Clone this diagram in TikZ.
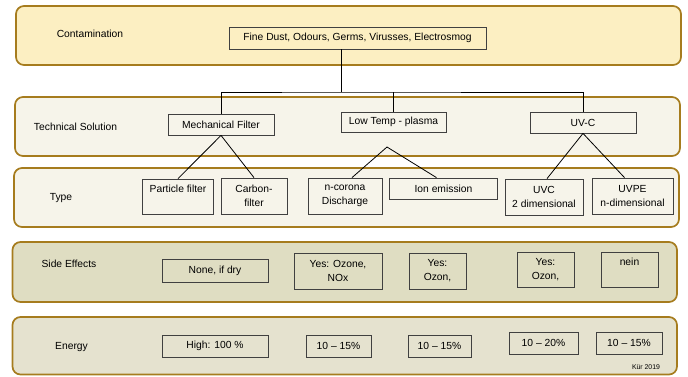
\documentclass[tikz,border=0pt]{standalone}
\usepackage{fontspec}
\setmainfont{Liberation Sans}
\usepackage{tikz}
\usetikzlibrary{positioning}
\definecolor{bandline}{HTML}{A67C1E}
\definecolor{contfill}{HTML}{FCEFC2}
\definecolor{solfill}{HTML}{F6F4EA}
\definecolor{sidefill}{HTML}{DFDDC2}
\definecolor{enfill}{HTML}{E5E2CF}
\definecolor{boxline}{HTML}{404040}

\begin{document}
\begin{tikzpicture}[x=1pt, y=-1pt, font=\fontsize{10.3}{14}\selectfont,
    band/.style={draw=bandline, line width=1.7pt, rounded corners=8pt},
    box/.style={draw=boxline, line width=0.8pt, inner sep=0pt, align=center},
    link/.style={draw, line width=0.8pt}]
    \useasboundingbox (0, 0) rectangle (688, 376);

    % bands
    \draw[band, fill=contfill] (16, 6) rectangle (681, 65);
    \draw[band, fill=solfill] (15, 97) rectangle (680, 156);
    \draw[band, fill=solfill] (14, 168) rectangle (679, 227);
    \draw[band, fill=sidefill] (12.5, 242) rectangle (677, 302);
    \draw[band, fill=enfill] (12.5, 317) rectangle (677, 374.5);

    \node (lcont) at (90, 34) {Contamination};
    \node (lsol) at (75.5, 127) {Technical Solution};
    \node (ltype) at (61, 198) {Type};
    \node (lside) at (69, 264) {Side Effects};
    \node (lenergy) at (71.5, 347) {Energy};

    \node[box, minimum width=257pt, minimum height=22pt] (dust) at (357.5, 38) {Fine Dust, Odours, Germs, Virusses, Electrosmog};

    \node[box, minimum width=106pt, minimum height=21pt] (mech) at (221, 124.5) {Mechanical Filter};
    \node[box, minimum width=105pt, minimum height=20pt] (ltp) at (393.5, 122) {Low Temp - plasma};
    \node[box, minimum width=106pt, minimum height=21pt] (uvc) at (583, 122.5) {UV-C};

    \node[box, minimum width=71pt, minimum height=35pt] (part) at (178, 196.5) {Particle filter\\\phantom{Xg}};
    \node[box, minimum width=66pt, minimum height=36pt] (carb) at (254, 196) {Carbon-\\filter};
    \node[box, minimum width=74pt, minimum height=36pt] (ncor) at (345, 196) {n-corona\\Discharge};
    \node[box, minimum width=108pt, minimum height=21pt] (ion) at (443.5, 188.5) {Ion emission};
    \node[box, minimum width=78pt, minimum height=36pt] (uvtwo) at (544, 197) {UVC\\2 dimensional};
    \node[box, minimum width=81pt, minimum height=36pt] (uvpe) at (632.5, 196) {UVPE\\n-dimensional};

    \node[box, minimum width=106pt, minimum height=23pt] (se1) at (215, 270.5) {None, if dry};
    \node[box, minimum width=88pt, minimum height=36pt] (se2) at (338, 271) {Yes: Ozone,\\NOx};
    \node[box, minimum width=57pt, minimum height=36pt] (se3) at (437.5, 271) {Yes:\\Ozon,};
    \node[box, minimum width=57pt, minimum height=35pt] (se4) at (545.5, 269.5) {Yes:\\Ozon,};
    \node[box, minimum width=57pt, minimum height=35pt] (se5) at (629.5, 269.5) {nein\\\phantom{Xg}};

    \node[box, minimum width=106pt, minimum height=22pt] (en1) at (215, 346) {High: 100 \%};
    \node[box, minimum width=65pt, minimum height=22pt] (en2) at (338.5, 346) {10 – 15\%};
    \node[box, minimum width=63pt, minimum height=22pt] (en3) at (439.5, 346) {10 – 15\%};
    \node[box, minimum width=69pt, minimum height=22pt] (en4) at (543.5, 343) {10 – 20\%};
    \node[box, minimum width=66pt, minimum height=22pt] (en5) at (629, 343) {10 – 15\%};

    \node[font=\fontsize{6.9}{8}\selectfont] (sign) at (646, 367) {Kür 2019};

    \coordinate (split) at (341, 92);
    \coordinate (fork) at (387, 147);

    \draw[link] ([xshift=-16.5pt]dust.south) -- (split);
    \draw[link] (mech.north) |- (split) -| (uvc.north);
    \draw[link] (split -| ltp.north) -- (ltp.north);

    \path[link]
        (mech.south) edge (part.north)
        (mech.south) edge (carb.north)

        (fork) edge ([xshift=7pt]ncor.north)
        (fork) edge ([xshift=-7pt]ion.north)

        (uvc.south) edge ([xshift=3pt]uvtwo.north)
        (uvc.south) edge ([xshift=-8pt]uvpe.north);
\end{tikzpicture}
\end{document}
